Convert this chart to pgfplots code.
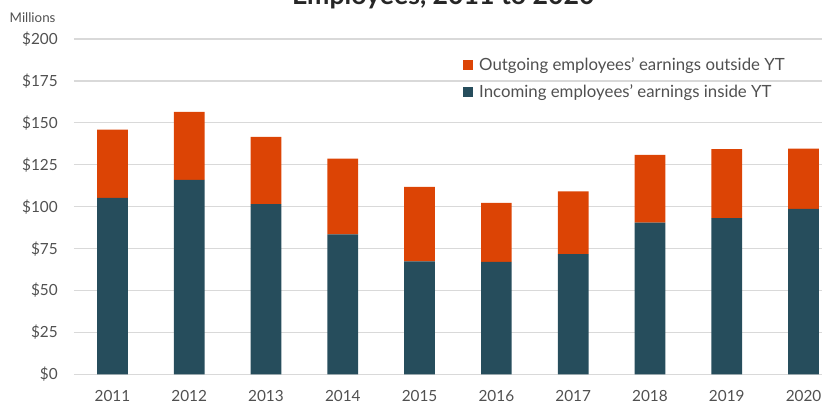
\documentclass[border=0pt]{standalone}
\usepackage{pgfplots}
\pgfplotsset{compat=1.18}
\usepackage{fontspec}
\setmainfont{Lato}
\definecolor{incoming}{HTML}{264D5C}
\definecolor{outgoing}{HTML}{DC4405}
\definecolor{gridgray}{HTML}{D9D9D9}
\definecolor{labelgray}{HTML}{505050}

\begin{document}
\begin{tikzpicture}
\begin{axis}[
    at={(0,0)}, anchor=south west,
    scale only axis,
    width=561pt, height=251.6pt,
    ybar stacked,
    bar width=0.40,
    xmin=-0.5, xmax=9.24,
    ymin=0, ymax=200,
    xtick=data,
    xticklabels={2011,2012,2013,2014,2015,2016,2017,2018,2019,2020},
    ytick={0,25,50,75,100,125,150,175,200},
    yticklabels={\$0,\$25,\$50,\$75,\$100,\$125,\$150,\$175,\$200},
    axis line style={draw=none},
    major tick length=0pt,
    ymajorgrids,
    grid style={gridgray, line width=0.9pt},
    tick label style={font=\fontsize{11.5}{13}\selectfont, text=labelgray},
    yticklabel style={anchor=east, inner sep=0pt, xshift=-12pt},
    xticklabel style={anchor=north, inner sep=0pt, yshift=-12pt},
    legend style={draw=none, fill=none, inner sep=0pt,
        at={(0.52,0.952)}, anchor=north west,
        font=\fontsize{12.6}{14}\selectfont, text=labelgray,
        row sep=4.5pt,
        nodes={inner xsep=4.5pt}},
    legend cell align=left,
    reverse legend,
    legend image code/.code={\path[#1,draw=none] (0pt,-3.75pt) rectangle (7.5pt,3.75pt);},
]
\addplot[fill=incoming, draw=none] coordinates {
    (0,105.3) (1,116.0) (2,101.5) (3,83.6) (4,67.5)
    (5,67.1) (6,71.7) (7,90.6) (8,93.2) (9,98.7)};
\addplot[fill=outgoing, draw=none] coordinates {
    (0,40.7) (1,40.5) (2,40.1) (3,45.1) (4,44.4)
    (5,35.2) (6,37.4) (7,40.3) (8,41.1) (9,36.0)};
\legend{Incoming employees' earnings inside YT, Outgoing employees' earnings outside YT}
\end{axis}
\node[anchor=west, font=\fontsize{10}{12}\selectfont, text=labelgray] at (-51.75pt,268pt) {Millions};
\node[anchor=base, font=\bfseries\fontsize{20}{24}\selectfont, text=black!85] at (277pt,277.6pt) {Employees, 2011 to 2020};
\pgfresetboundingbox
\path[use as bounding box] (-55.5pt,-20.625pt) rectangle (561pt,280.875pt);
\end{tikzpicture}
\end{document}
